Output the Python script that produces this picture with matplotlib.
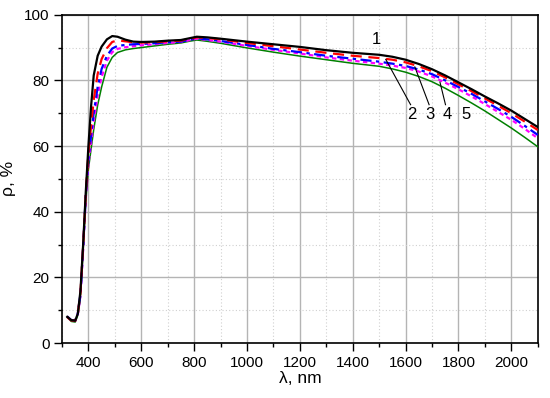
import matplotlib
matplotlib.use("Agg")
import matplotlib.pyplot as plt
from matplotlib.ticker import MultipleLocator

plt.rcParams['font.family'] = ['Liberation Sans', 'DejaVu Sans']

wl = [320, 335, 350, 360, 370, 380, 390, 400, 410, 420, 435, 450, 470, 490, 510, 540, 570, 600,
      650, 700, 750, 780, 810, 850, 900, 1000, 1100, 1200, 1300, 1400, 1500, 1550, 1600, 1650,
      1700, 1750, 1800, 1850, 1900, 1950, 2000, 2050, 2100]

s1 = [8.0, 7.0, 6.8, 9, 16, 30, 46, 60, 72, 81.5, 87.5, 90.3, 92.5, 93.5, 93.3, 92.4, 91.8, 91.7,
      91.8, 92.1, 92.3, 92.8, 93.3, 93.1, 92.7, 91.8, 91.0, 90.2, 89.2, 88.4, 87.8, 87.2, 86.3, 85.0,
      83.4, 81.5, 79.4, 77.3, 75.1, 73.0, 70.8, 68.3, 65.8]
s2 = [7.9, 6.9, 6.8, 9, 15.5, 29.5, 45.5, 58, 66, 74, 82, 86.5, 89.8, 91.7, 92.2, 91.9, 91.6, 91.5,
      91.6, 91.9, 92.1, 92.6, 93.1, 92.9, 92.5, 91.4, 90.4, 89.4, 88.4, 87.5, 86.8, 86.3, 85.5, 84.3,
      82.8, 80.9, 78.8, 76.7, 74.5, 72.3, 70.0, 67.5, 64.9]
s3 = [8.1, 7.0, 6.9, 9, 15, 29, 45, 56, 63, 70, 78, 83.5, 87.5, 89.7, 90.5, 90.8, 91.0, 91.1,
      91.3, 91.6, 91.8, 92.3, 92.8, 92.5, 92.0, 90.8, 89.6, 88.6, 87.5, 86.6, 85.7, 85.1, 84.4, 83.3,
      81.9, 80.0, 78.0, 75.9, 73.6, 71.3, 68.9, 66.2, 63.4]
s4 = [8.0, 6.9, 6.7, 8.8, 14.5, 28.5, 44, 54.5, 61, 67.5, 75.5, 81, 86, 88.6, 89.6, 90.1, 90.4, 90.7,
      91.0, 91.4, 91.7, 92.2, 92.7, 92.3, 91.8, 90.5, 89.3, 88.2, 87.0, 86.0, 85.1, 84.5, 83.8, 82.7,
      81.2, 79.3, 77.3, 75.1, 72.8, 70.4, 68.0, 65.3, 62.4]
s5 = [7.8, 6.6, 6.4, 8.5, 14, 28, 43, 53, 59, 65, 72.5, 78, 84, 87, 88.5, 89.3, 89.7, 90.0,
      90.5, 91.0, 91.4, 91.9, 92.3, 91.9, 91.3, 89.9, 88.6, 87.4, 86.3, 85.2, 84.3, 83.5, 82.5, 81.2,
      79.6, 77.6, 75.4, 73.1, 70.7, 68.1, 65.5, 62.7, 59.8]

labels = ["1", "2", "3", "4", "5"]

fig = plt.figure(figsize=(5.5, 3.98), dpi=100)
ax = fig.add_axes([0.1127, 0.138, 0.865, 0.825])

ax.plot(wl, s5, color='#008000', lw=1.1, ls='-', zorder=3)
ax.plot(wl, s4, color='#ff00ff', lw=1.6, ls=(0, (2, 1.5)), zorder=4)
ax.plot(wl, s3, color='#0000ff', lw=1.6, ls=(0, (5, 2, 1.5, 2)), zorder=5)
ax.plot(wl, s2, color='#ff0000', lw=1.6, ls=(0, (5, 3)), zorder=6)
ax.plot(wl, s1, color='black', lw=1.6, ls='-', zorder=7)

ax.set_xlim(300, 2100)
ax.set_ylim(0, 100)
ax.xaxis.set_major_locator(MultipleLocator(200))
ax.xaxis.set_minor_locator(MultipleLocator(100))
ax.yaxis.set_major_locator(MultipleLocator(20))
ax.yaxis.set_minor_locator(MultipleLocator(10))
ax.set_xticks([400, 600, 800, 1000, 1200, 1400, 1600, 1800, 2000])

ax.grid(which='major', color='#b4b4b4', lw=1.0, ls='-', zorder=0)
ax.grid(which='minor', color='#d0d0d0', lw=0.8, ls=(0, (1, 2)), zorder=0)
ax.set_axisbelow(True)

ax.tick_params(which='major', direction='out', length=6, width=1.0, labelsize=11, top=False, right=False, pad=3)
ax.tick_params(which='minor', direction='out', length=3, width=1.0, top=False, right=False)
for sp in ax.spines.values():
    sp.set_linewidth(1.2)

ax.set_xlabel("λ, nm", fontsize=12.5, labelpad=1)
ax.set_ylabel("ρ, %", fontsize=12.5, labelpad=6)

# curve annotations
ax.text(1488, 90.2, labels[0], fontsize=12, ha='center', va='bottom')
lab_x = [1624, 1694, 1756, 1827]
lab_y = 69.6
targets = [(1525, 86.4), (1635, 84.1), (1730, 79.5)]
for i, lx in enumerate(lab_x):
    ax.text(lx, lab_y, labels[i + 1], fontsize=12, ha='center', va='center')
for (tx, ty), lx in zip(targets, lab_x[:3]):
    ax.plot([lx - 5, tx], [lab_y + 3.0, ty], color='black', lw=0.8, zorder=8)

fig.savefig("out.png", dpi=100, facecolor='white')
